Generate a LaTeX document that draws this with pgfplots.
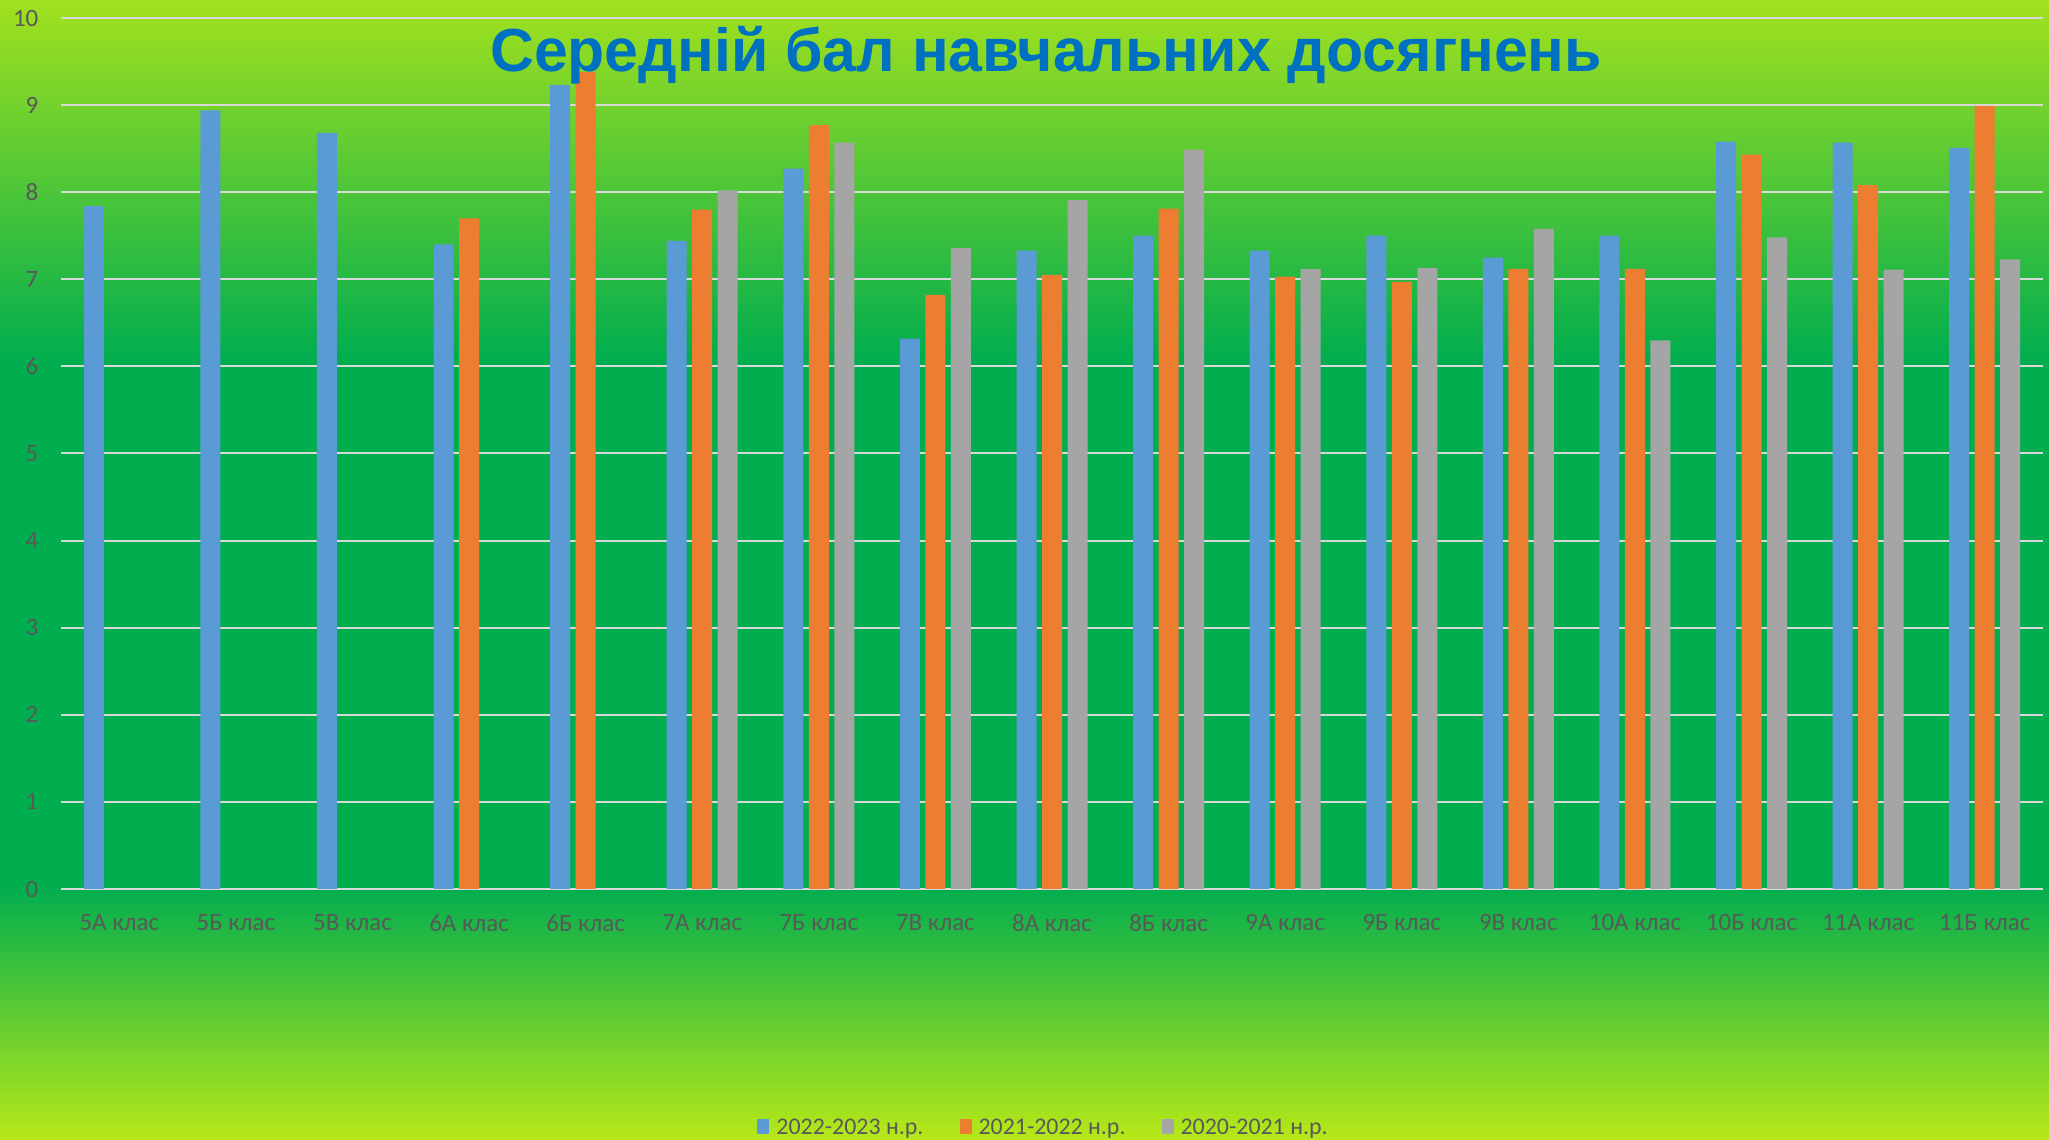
\documentclass[border=0pt]{standalone}
\usepackage{fontspec}
\setmainfont{Carlito}
\newfontfamily\titlefont{Liberation Sans}
\usepackage{pgfplots}
\pgfplotsset{compat=1.18}

\definecolor{bgtop}{HTML}{A2E11F}
\definecolor{bgmid}{HTML}{00AD4F}
\definecolor{bgbot}{HTML}{B8E818}
\definecolor{gridc}{HTML}{D9D9D9}
\definecolor{tickc}{HTML}{595959}
\definecolor{titleblue}{HTML}{0070C0}
\definecolor{s1}{HTML}{5B9BD5}
\definecolor{s2}{HTML}{ED7D31}
\definecolor{s3}{HTML}{A5A5A5}

\begin{document}
\begin{tikzpicture}
\useasboundingbox (0,0) rectangle (20.49,11.40);
% background gradient
\shade[top color=bgtop, bottom color=bgmid] (0,7.78) rectangle (20.49,11.40);
\fill[bgmid] (0,2.55) rectangle (20.49,7.80);
\shade[top color=bgmid, bottom color=bgbot] (0,0) rectangle (20.49,2.56);

\begin{axis}[
    at={(0.61cm,2.51cm)}, anchor=south west,
    scale only axis,
    width=19.82cm, height=8.71cm,
    ybar=0.055cm, bar width=0.2cm,
    xmin=-0.5, xmax=16.5,
    ymin=0, ymax=10,
    xtick={0,...,16},
    xticklabels={5А клас, 5Б клас, 5В клас, 6А клас, 6Б клас, 7А клас, 7Б клас, 7В клас, 8А клас, 8Б клас, 9А клас, 9Б клас, 9В клас, 10А клас, 10Б клас, 11А клас, 11Б клас},
    ytick={0,...,10},
    axis line style={draw=none},
    major tick length=0pt,
    ymajorgrids,
    grid style={line width=0.02cm, gridc},
    /pgf/number format/assume math mode=true,
    every tick label/.append style={font=\fontsize{7.1}{8.5}\selectfont, text=tickc},
    xticklabel style={anchor=north, inner sep=0pt, yshift=-0.25cm},
    yticklabel style={anchor=east, inner sep=0pt, xshift=-0.22cm},
    legend style={at={(0.497,-0.2763)}, anchor=center, draw=none, fill=none,
        font=\fontsize{6.8}{8.2}\selectfont, text=tickc,
        /tikz/every even column/.append style={column sep=0.29cm},
        inner sep=0pt},
    legend columns=-1,
]

\addplot[fill=s1, draw=none, legend image code/.code={\fill[s1] (0cm,-0.04cm) rectangle (0.12cm,0.11cm);}] coordinates {
    (0,7.84) (1,8.94) (2,8.68) (3,7.40) (4,9.23) (5,7.44) (6,8.27) (7,6.32) (8,7.33)
    (9,7.50) (10,7.33) (11,7.50) (12,7.25) (13,7.50) (14,8.58) (15,8.57) (16,8.51)
};
\addlegendentry{2022-2023 н.р.}

\addplot[fill=s2, draw=none, legend image code/.code={\fill[s2] (0cm,-0.04cm) rectangle (0.12cm,0.11cm);}] coordinates {
    (3,7.70) (4,9.38) (5,7.80) (6,8.77) (7,6.82) (8,7.05) (9,7.81) (10,7.03)
    (11,6.97) (12,7.12) (13,7.12) (14,8.43) (15,8.08) (16,8.99)
};
\addlegendentry{2021-2022 н.р.}

\addplot[fill=s3, draw=none, legend image code/.code={\fill[s3] (0cm,-0.04cm) rectangle (0.12cm,0.11cm);}] coordinates {
    (5,8.02) (6,8.57) (7,7.36) (8,7.91) (9,8.49) (10,7.12) (11,7.13) (12,7.58)
    (13,6.30) (14,7.48) (15,7.11) (16,7.23)
};
\addlegendentry{2020-2021 н.р.}

\end{axis}

\node[font=\titlefont\bfseries\fontsize{17.3}{20}\selectfont, text=titleblue, anchor=base, inner sep=0pt]
    at (10.46,10.68) {Середній бал навчальних досягнень};
\end{tikzpicture}
\end{document}
